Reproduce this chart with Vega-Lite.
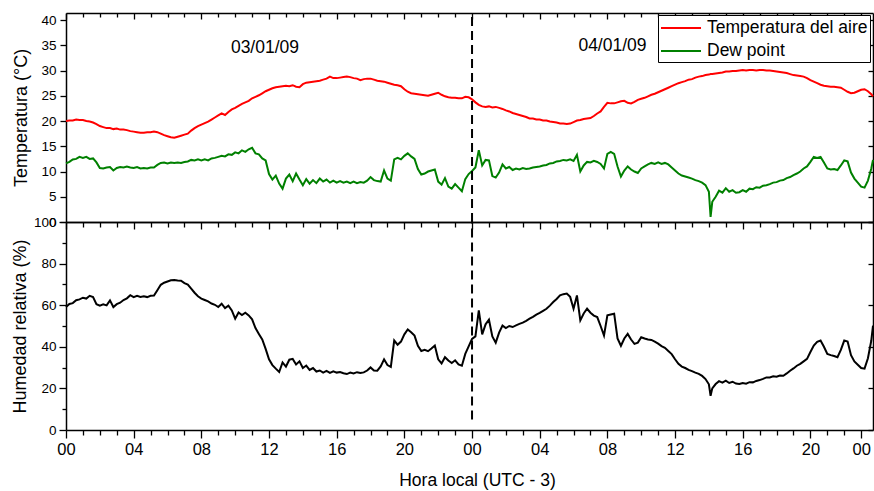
{
  "$schema": "https://vega.github.io/schema/vega-lite/v6.json",
  "padding": {"left": 11, "top": 12, "right": 1, "bottom": 1},
  "background": "white",
  "spacing": 0,
  "bounds": "flush",
  "data": {
    "values": [
      {"h":0,"t":20.0,"d":11.6,"rh":59.1},{"h":0.2,"t":20.1,"d":11.9,"rh":60.6},{"h":0.4,"t":20.1,"d":12.4,"rh":61.0},{"h":0.6,"t":20.3,"d":12.5,"rh":62.4},
      {"h":0.8,"t":20.2,"d":12.9,"rh":62.8},{"h":1.0,"t":20.2,"d":12.7,"rh":63.6},{"h":1.2,"t":20.0,"d":12.9,"rh":63.2},{"h":1.4,"t":19.9,"d":12.5,"rh":64.5},
      {"h":1.6,"t":19.7,"d":12.6,"rh":63.9},{"h":1.8,"t":19.4,"d":11.8,"rh":60.5},{"h":2.0,"t":19.0,"d":10.7,"rh":59.8},{"h":2.2,"t":18.8,"d":10.6,"rh":60.4},
      {"h":2.4,"t":18.6,"d":10.8,"rh":59.9},{"h":2.6,"t":18.6,"d":10.9,"rh":62.3},{"h":2.8,"t":18.4,"d":10.2,"rh":59.1},{"h":3.0,"t":18.5,"d":10.7,"rh":60.5},
      {"h":3.2,"t":18.3,"d":10.9,"rh":61.2},{"h":3.4,"t":18.3,"d":10.8,"rh":62.5},{"h":3.6,"t":18.2,"d":11.0,"rh":63.3},{"h":3.8,"t":18.0,"d":10.8,"rh":64.8},
      {"h":4.0,"t":17.9,"d":10.7,"rh":63.9},{"h":4.2,"t":17.8,"d":10.9,"rh":64.5},{"h":4.4,"t":17.7,"d":10.6,"rh":64.0},{"h":4.6,"t":17.7,"d":10.7,"rh":64.3},
      {"h":4.8,"t":17.8,"d":10.6,"rh":63.9},{"h":5.0,"t":17.8,"d":10.8,"rh":64.5},{"h":5.2,"t":17.9,"d":10.8,"rh":64.6},{"h":5.4,"t":17.8,"d":11.3,"rh":67.2},
      {"h":5.6,"t":17.5,"d":11.7,"rh":69.8},{"h":5.8,"t":17.2,"d":11.8,"rh":70.8},{"h":6.0,"t":17.0,"d":11.6,"rh":71.4},{"h":6.2,"t":16.8,"d":11.8,"rh":72.0},
      {"h":6.4,"t":16.7,"d":11.7,"rh":72.1},{"h":6.6,"t":16.9,"d":11.8,"rh":71.9},{"h":6.8,"t":17.1,"d":11.7,"rh":71.8},{"h":7.0,"t":17.3,"d":11.9,"rh":70.6},
      {"h":7.2,"t":17.5,"d":12.0,"rh":69.9},{"h":7.4,"t":18.1,"d":12.3,"rh":68.0},{"h":7.6,"t":18.6,"d":12.2,"rh":66.0},{"h":7.8,"t":19.0,"d":12.4,"rh":64.3},
      {"h":8.0,"t":19.3,"d":12.2,"rh":63.2},{"h":8.2,"t":19.6,"d":12.4,"rh":62.5},{"h":8.4,"t":19.9,"d":12.2,"rh":61.8},{"h":8.6,"t":20.3,"d":12.6,"rh":60.8},
      {"h":8.8,"t":20.7,"d":12.7,"rh":60.2},{"h":9.0,"t":21.1,"d":12.9,"rh":59.1},{"h":9.2,"t":21.5,"d":13.1,"rh":60.7},{"h":9.4,"t":21.2,"d":13.0,"rh":58.6},
      {"h":9.6,"t":21.8,"d":13.4,"rh":59.8},{"h":9.8,"t":22.3,"d":13.3,"rh":57.5},{"h":10.0,"t":22.6,"d":13.8,"rh":53.5},{"h":10.2,"t":23.0,"d":13.6,"rh":56.5},
      {"h":10.4,"t":23.4,"d":14.2,"rh":55.3},{"h":10.6,"t":23.7,"d":13.9,"rh":56.4},{"h":10.8,"t":24.0,"d":14.4,"rh":55.1},{"h":11.0,"t":24.5,"d":14.7,"rh":53.2},
      {"h":11.2,"t":24.8,"d":13.6,"rh":49.0},{"h":11.4,"t":25.1,"d":13.4,"rh":46.2},{"h":11.6,"t":25.5,"d":12.6,"rh":43.5},{"h":11.8,"t":25.9,"d":12.2,"rh":39.0},
      {"h":12.0,"t":26.2,"d":9.5,"rh":34.0},{"h":12.2,"t":26.5,"d":8.4,"rh":31.2},{"h":12.4,"t":26.7,"d":9.2,"rh":29.5},{"h":12.6,"t":26.8,"d":7.6,"rh":27.9},
      {"h":12.8,"t":26.9,"d":6.6,"rh":32.5},{"h":13.0,"t":27.0,"d":8.6,"rh":30.5},{"h":13.2,"t":26.9,"d":9.4,"rh":33.8},{"h":13.4,"t":27.1,"d":8.1,"rh":34.2},
      {"h":13.6,"t":26.8,"d":9.6,"rh":31.5},{"h":13.8,"t":26.7,"d":8.4,"rh":33.0},{"h":14.0,"t":27.3,"d":7.3,"rh":29.8},{"h":14.2,"t":27.6,"d":8.5,"rh":31.0},
      {"h":14.4,"t":27.7,"d":7.6,"rh":28.9},{"h":14.6,"t":27.8,"d":8.3,"rh":29.8},{"h":14.8,"t":27.9,"d":7.7,"rh":28.1},{"h":15.0,"t":28.0,"d":8.6,"rh":28.6},
      {"h":15.2,"t":28.2,"d":8.0,"rh":27.6},{"h":15.4,"t":28.4,"d":8.4,"rh":28.4},{"h":15.6,"t":28.8,"d":7.8,"rh":27.5},{"h":15.8,"t":28.5,"d":8.2,"rh":28.2},
      {"h":16.0,"t":28.5,"d":7.8,"rh":27.6},{"h":16.2,"t":28.6,"d":8.1,"rh":27.9},{"h":16.4,"t":28.7,"d":7.8,"rh":27.3},{"h":16.6,"t":28.8,"d":8.0,"rh":26.9},
      {"h":16.8,"t":28.7,"d":7.7,"rh":27.6},{"h":17.0,"t":28.5,"d":8.0,"rh":27.2},{"h":17.2,"t":28.4,"d":7.7,"rh":27.8},{"h":17.4,"t":28.1,"d":7.9,"rh":27.4},
      {"h":17.6,"t":28.3,"d":7.8,"rh":27.7},{"h":17.8,"t":28.4,"d":8.2,"rh":28.6},{"h":18.0,"t":28.4,"d":8.9,"rh":30.1},{"h":18.2,"t":28.2,"d":8.3,"rh":28.6},
      {"h":18.4,"t":28.0,"d":8.1,"rh":28.5},{"h":18.6,"t":27.9,"d":8.0,"rh":30.6},{"h":18.8,"t":27.8,"d":10.2,"rh":34.0},{"h":19.0,"t":27.6,"d":8.6,"rh":31.2},
      {"h":19.2,"t":27.4,"d":8.2,"rh":30.3},{"h":19.4,"t":27.2,"d":12.4,"rh":43.0},{"h":19.6,"t":27.1,"d":12.7,"rh":41.0},{"h":19.8,"t":26.9,"d":12.4,"rh":42.5},
      {"h":20.0,"t":26.3,"d":13.1,"rh":46.0},{"h":20.2,"t":25.8,"d":13.6,"rh":48.3},{"h":20.4,"t":25.5,"d":13.0,"rh":47.0},{"h":20.6,"t":25.4,"d":12.5,"rh":45.4},
      {"h":20.8,"t":25.3,"d":10.5,"rh":40.5},{"h":21.0,"t":25.2,"d":9.4,"rh":38.0},{"h":21.2,"t":25.1,"d":9.6,"rh":38.6},{"h":21.4,"t":25.0,"d":10.0,"rh":37.9},
      {"h":21.6,"t":25.2,"d":10.2,"rh":39.2},{"h":21.8,"t":25.4,"d":10.4,"rh":40.6},{"h":22.0,"t":25.6,"d":8.0,"rh":34.0},{"h":22.2,"t":25.2,"d":7.4,"rh":32.0},
      {"h":22.4,"t":24.9,"d":8.7,"rh":35.0},{"h":22.6,"t":24.7,"d":7.0,"rh":33.4},{"h":22.8,"t":24.6,"d":6.6,"rh":32.2},{"h":23.0,"t":24.6,"d":7.5,"rh":33.5},
      {"h":23.2,"t":24.5,"d":6.8,"rh":31.5},{"h":23.4,"t":24.5,"d":6.1,"rh":30.9},{"h":23.6,"t":24.8,"d":8.5,"rh":36.6},{"h":23.8,"t":24.7,"d":9.5,"rh":40.2},
      {"h":24.0,"t":24.3,"d":10.1,"rh":43.8},{"h":24.2,"t":23.7,"d":10.8,"rh":45.0},{"h":24.4,"t":23.2,"d":14.2,"rh":57.5},{"h":24.6,"t":22.9,"d":11.2,"rh":46.0},
      {"h":24.8,"t":22.8,"d":12.3,"rh":50.8},{"h":25.0,"t":22.9,"d":12.2,"rh":53.0},{"h":25.2,"t":22.7,"d":9.1,"rh":45.0},{"h":25.4,"t":22.8,"d":8.8,"rh":42.0},
      {"h":25.6,"t":22.6,"d":9.8,"rh":46.8},{"h":25.8,"t":22.4,"d":11.4,"rh":50.2},{"h":26.0,"t":22.1,"d":10.6,"rh":49.0},{"h":26.2,"t":21.9,"d":10.9,"rh":50.0},
      {"h":26.4,"t":21.6,"d":10.3,"rh":49.5},{"h":26.6,"t":21.4,"d":10.6,"rh":50.3},{"h":26.8,"t":21.2,"d":10.4,"rh":51.0},{"h":27.0,"t":21.0,"d":10.7,"rh":51.6},
      {"h":27.2,"t":20.8,"d":10.5,"rh":52.5},{"h":27.4,"t":20.5,"d":10.6,"rh":53.5},{"h":27.6,"t":20.5,"d":10.8,"rh":54.4},{"h":27.8,"t":20.3,"d":10.9,"rh":55.5},
      {"h":28.0,"t":20.3,"d":11.0,"rh":56.3},{"h":28.2,"t":20.1,"d":11.2,"rh":57.3},{"h":28.4,"t":20.1,"d":11.3,"rh":58.3},{"h":28.6,"t":19.9,"d":11.6,"rh":59.8},
      {"h":28.8,"t":19.8,"d":11.7,"rh":61.5},{"h":29.0,"t":19.7,"d":12.0,"rh":63.0},{"h":29.2,"t":19.5,"d":12.1,"rh":64.7},{"h":29.4,"t":19.5,"d":12.3,"rh":65.3},
      {"h":29.6,"t":19.4,"d":12.2,"rh":65.6},{"h":29.8,"t":19.5,"d":12.4,"rh":64.0},{"h":30.0,"t":19.8,"d":12.1,"rh":58.3},{"h":30.2,"t":20.1,"d":13.3,"rh":64.7},
      {"h":30.4,"t":20.2,"d":10.0,"rh":52.7},{"h":30.6,"t":20.4,"d":11.2,"rh":56.0},{"h":30.8,"t":20.5,"d":11.9,"rh":58.3},{"h":31.0,"t":20.6,"d":11.8,"rh":56.4},
      {"h":31.2,"t":21.0,"d":12.1,"rh":55.0},{"h":31.4,"t":21.5,"d":11.9,"rh":54.3},{"h":31.6,"t":21.9,"d":11.5,"rh":50.0},{"h":31.8,"t":22.8,"d":10.6,"rh":45.4},
      {"h":32.0,"t":23.6,"d":13.5,"rh":55.1},{"h":32.2,"t":23.5,"d":13.9,"rh":55.5},{"h":32.4,"t":23.5,"d":13.5,"rh":55.9},{"h":32.6,"t":23.7,"d":11.0,"rh":44.0},
      {"h":32.8,"t":23.9,"d":9.0,"rh":40.5},{"h":33.0,"t":24.0,"d":10.2,"rh":44.0},{"h":33.2,"t":23.6,"d":11.0,"rh":46.2},{"h":33.4,"t":23.5,"d":10.4,"rh":43.5},
      {"h":33.6,"t":23.8,"d":10.0,"rh":41.4},{"h":33.8,"t":24.2,"d":9.7,"rh":42.0},{"h":34.0,"t":24.4,"d":10.6,"rh":44.6},{"h":34.2,"t":24.6,"d":11.0,"rh":44.0},
      {"h":34.4,"t":24.9,"d":11.4,"rh":43.5},{"h":34.6,"t":25.2,"d":11.7,"rh":43.3},{"h":34.8,"t":25.4,"d":11.5,"rh":42.5},{"h":35.0,"t":25.7,"d":11.8,"rh":41.5},
      {"h":35.2,"t":26.0,"d":11.5,"rh":40.3},{"h":35.4,"t":26.3,"d":11.7,"rh":39.5},{"h":35.6,"t":26.6,"d":11.4,"rh":38.0},{"h":35.8,"t":26.9,"d":10.8,"rh":36.5},
      {"h":36.0,"t":27.2,"d":10.2,"rh":34.0},{"h":36.2,"t":27.5,"d":9.6,"rh":31.8},{"h":36.4,"t":27.7,"d":9.2,"rh":30.5},{"h":36.6,"t":27.9,"d":9.0,"rh":29.8},
      {"h":36.8,"t":28.2,"d":8.8,"rh":28.9},{"h":37.0,"t":28.3,"d":8.6,"rh":28.3},{"h":37.2,"t":28.6,"d":8.3,"rh":27.6},{"h":37.4,"t":28.8,"d":8.1,"rh":27.0},
      {"h":37.6,"t":28.9,"d":7.8,"rh":26.0},{"h":37.8,"t":29.1,"d":7.3,"rh":24.5},{"h":38.0,"t":29.2,"d":6.0,"rh":22.0},{"h":38.1,"t":29.3,"d":1.0,"rh":16.4},
      {"h":38.2,"t":29.3,"d":4.0,"rh":20.0},{"h":38.4,"t":29.4,"d":5.0,"rh":22.1},{"h":38.6,"t":29.5,"d":6.2,"rh":23.5},{"h":38.8,"t":29.6,"d":5.8,"rh":22.8},
      {"h":39.0,"t":29.8,"d":6.7,"rh":23.7},{"h":39.2,"t":29.8,"d":6.0,"rh":22.6},{"h":39.4,"t":29.9,"d":6.3,"rh":23.2},{"h":39.6,"t":29.9,"d":5.8,"rh":22.3},
      {"h":39.8,"t":30.0,"d":5.9,"rh":22.1},{"h":40.0,"t":30.1,"d":6.3,"rh":22.6},{"h":40.2,"t":30.0,"d":6.0,"rh":22.3},{"h":40.4,"t":30.1,"d":6.6,"rh":23.0},
      {"h":40.6,"t":30.1,"d":6.5,"rh":22.9},{"h":40.8,"t":30.0,"d":6.9,"rh":23.6},{"h":41.0,"t":30.1,"d":6.8,"rh":24.0},{"h":41.2,"t":30.1,"d":7.2,"rh":24.6},
      {"h":41.4,"t":30.0,"d":7.3,"rh":25.3},{"h":41.6,"t":30.0,"d":7.5,"rh":25.3},{"h":41.8,"t":29.9,"d":7.8,"rh":25.8},{"h":42.0,"t":29.8,"d":7.9,"rh":25.6},
      {"h":42.2,"t":29.7,"d":8.2,"rh":26.2},{"h":42.4,"t":29.6,"d":8.3,"rh":26.1},{"h":42.6,"t":29.5,"d":8.7,"rh":27.2},{"h":42.8,"t":29.3,"d":8.9,"rh":28.5},
      {"h":43.0,"t":29.1,"d":9.3,"rh":29.6},{"h":43.2,"t":29.0,"d":9.6,"rh":30.9},{"h":43.4,"t":28.9,"d":10.0,"rh":31.8},{"h":43.6,"t":28.8,"d":10.6,"rh":33.0},
      {"h":43.8,"t":28.5,"d":11.0,"rh":34.2},{"h":44.0,"t":28.1,"d":11.9,"rh":37.5},{"h":44.2,"t":27.8,"d":12.9,"rh":40.6},{"h":44.4,"t":27.5,"d":12.7,"rh":42.4},
      {"h":44.6,"t":27.2,"d":12.9,"rh":43.0},{"h":44.8,"t":27.0,"d":11.8,"rh":40.0},{"h":45.0,"t":26.9,"d":10.6,"rh":36.6},{"h":45.2,"t":26.8,"d":10.4,"rh":36.0},
      {"h":45.4,"t":26.8,"d":10.5,"rh":35.6},{"h":45.6,"t":26.7,"d":10.3,"rh":35.0},{"h":45.8,"t":26.6,"d":11.2,"rh":38.5},{"h":46.0,"t":26.2,"d":12.2,"rh":43.0},
      {"h":46.2,"t":25.8,"d":12.0,"rh":42.5},{"h":46.4,"t":25.5,"d":9.8,"rh":36.0},{"h":46.6,"t":25.6,"d":8.6,"rh":33.0},{"h":46.8,"t":25.9,"d":7.8,"rh":31.4},
      {"h":47.0,"t":26.2,"d":7.0,"rh":29.8},{"h":47.2,"t":26.3,"d":6.8,"rh":29.5},{"h":47.4,"t":25.9,"d":8.2,"rh":34.5},{"h":47.6,"t":25.3,"d":10.6,"rh":43.0},
      {"h":47.7,"t":24.9,"d":12.3,"rh":50.2}
    ]
  },
  "resolve": {"scale": {"color": "independent"}},
  "vconcat": [
    {
      "width": 807,
      "height": 209,
      "layer": [
        {
          "transform": [{"fold": ["t", "d"], "as": ["serie", "valor"]}],
          "mark": {"type": "line", "strokeWidth": 2},
          "encoding": {
            "x": {
              "field": "h", "type": "quantitative",
              "scale": {"domain": [0, 47.7], "nice": false, "zero": false},
              "axis": {
                "orient": "bottom", "title": null, "labels": false,
                "values": [0,1,2,3,4,5,6,7,8,9,10,11,12,13,14,15,16,17,18,19,20,21,22,23,24,25,26,27,28,29,30,31,32,33,34,35,36,37,38,39,40,41,42,43,44,45,46,47],
                "tickSize": {"condition": {"test": "datum.value % 4 === 0 || datum.value === 47", "value": 7}, "value": 5}
              }
            },
            "y": {
              "field": "valor", "type": "quantitative",
              "scale": {"domain": [0, 41.4], "nice": false},
              "axis": {
                "orient": "left", "title": "Temperatura (°C)",
                "values": [0,5,10,15,20,25,30,35,40],
                "tickSize": 6, "labelPadding": 4, "titlePadding": 10
              }
            },
            "color": {
              "field": "serie", "type": "nominal",
              "scale": {"domain": ["t", "d"], "range": ["#ff0000", "#008000"]},
              "legend": {
                "title": null, "orient": "none", "legendX": 592, "legendY": 2,
                "labelExpr": "datum.value === 't' ? 'Temperatura del aire' : 'Dew point'"
              }
            }
          }
        },
        {
          "data": {"values": [{"h": 24}]},
          "mark": {"type": "rule", "color": "#000", "strokeWidth": 2, "strokeDash": [9, 5]},
          "encoding": {
            "x": {
              "field": "h", "type": "quantitative",
              "axis": {
                "orient": "top", "title": null, "labels": false,
                "values": [0,1,2,3,4,5,6,7,8,9,10,11,12,13,14,15,16,17,18,19,20,21,22,23,24,25,26,27,28,29,30,31,32,33,34,35,36,37,38,39,40,41,42,43,44,45,46,47],
                "tickSize": {"condition": {"test": "datum.value % 4 === 0 || datum.value === 47", "value": -6}, "value": -4}
              }
            },
            "y": {
              "datum": 0, "type": "quantitative",
              "axis": {"orient": "right", "title": null, "labels": false, "values": [0,5,10,15,20,25,30,35,40], "tickSize": -5}
            },
            "y2": {"datum": 41.4}
          }
        },
        {
          "data": {"values": [{"h": 11.76, "v": 34.5, "fecha": "03/01/09"}, {"h": 32.3, "v": 34.8, "fecha": "04/01/09"}]},
          "mark": {"type": "text", "fontSize": 17.5, "color": "#000", "baseline": "middle", "align": "center"},
          "encoding": {
            "x": {"field": "h", "type": "quantitative", "axis": null},
            "y": {"field": "v", "type": "quantitative", "axis": null},
            "text": {"field": "fecha"}
          }
        }
      ],
      "resolve": {"axis": {"x": "independent", "y": "independent"}}
    },
    {
      "width": 807,
      "height": 208,
      "layer": [
        {
          "mark": {"type": "line", "strokeWidth": 2, "color": "#000"},
          "encoding": {
            "x": {
              "field": "h", "type": "quantitative",
              "scale": {"domain": [0, 47.7], "nice": false, "zero": false},
              "axis": {
                "orient": "bottom", "title": "Hora local (UTC - 3)",
                "values": [0,1,2,3,4,5,6,7,8,9,10,11,12,13,14,15,16,17,18,19,20,21,22,23,24,25,26,27,28,29,30,31,32,33,34,35,36,37,38,39,40,41,42,43,44,45,46,47],
                "labelExpr": "datum.value === 47 ? '00' : (datum.value % 4 === 0 ? ((datum.value % 24) < 10 ? '0' : '') + (datum.value % 24) : '')",
                "tickSize": {"condition": {"test": "datum.value % 4 === 0 || datum.value === 47", "value": 8}, "value": 5},
                "labelFontSize": 16.5, "labelPadding": 3, "titleFontSize": 17.5, "titlePadding": 14, "titleX": 411
              }
            },
            "y": {
              "field": "rh", "type": "quantitative",
              "scale": {"domain": [0, 100], "nice": false},
              "axis": {
                "orient": "left", "title": "Humedad relativa (%)",
                "values": [0,10,20,30,40,50,60,70,80,90,100],
                "labelExpr": "datum.value % 20 === 0 ? datum.label : ''",
                "tickSize": {"condition": {"test": "datum.value % 20 === 0", "value": 7}, "value": 4},
                "labelPadding": 3, "titlePadding": 4
              }
            }
          }
        },
        {
          "data": {"values": [{"h": 24}]},
          "mark": {"type": "rule", "color": "#000", "strokeWidth": 2, "strokeDash": [9, 5]},
          "encoding": {
            "x": {
              "field": "h", "type": "quantitative",
              "axis": {"orient": "top", "title": null, "labels": false, "ticks": false}
            },
            "y": {
              "datum": 5, "type": "quantitative",
              "axis": {"orient": "right", "title": null, "labels": false, "values": [0,20,40,60,80,100], "tickSize": -5}
            },
            "y2": {"datum": 100}
          }
        }
      ],
      "resolve": {"axis": {"x": "independent", "y": "independent"}}
    }
  ],
  "config": {
    "font": "Liberation Sans",
    "view": {"stroke": null},
    "axis": {
      "grid": false,
      "labelFlush": false,
      "domainColor": "#000",
      "domainWidth": 1.5,
      "tickColor": "#000",
      "tickWidth": 1.3,
      "labelColor": "#000",
      "labelFont": "Liberation Sans",
      "labelFontSize": 13.5,
      "titleColor": "#000",
      "titleFont": "Liberation Sans",
      "titleFontSize": 18,
      "titleFontWeight": "normal"
    },
    "legend": {
      "strokeColor": "#000",
      "fillColor": "#fff",
      "padding": 2,
      "cornerRadius": 0,
      "symbolType": "M-1,0H3",
      "symbolSize": 400,
      "symbolStrokeWidth": 2,
      "labelFont": "Liberation Sans",
      "labelFontSize": 17.5,
      "labelColor": "#000",
      "labelOffset": 25,
      "rowPadding": 3,
      "labelLimit": 300
    }
  }
}
